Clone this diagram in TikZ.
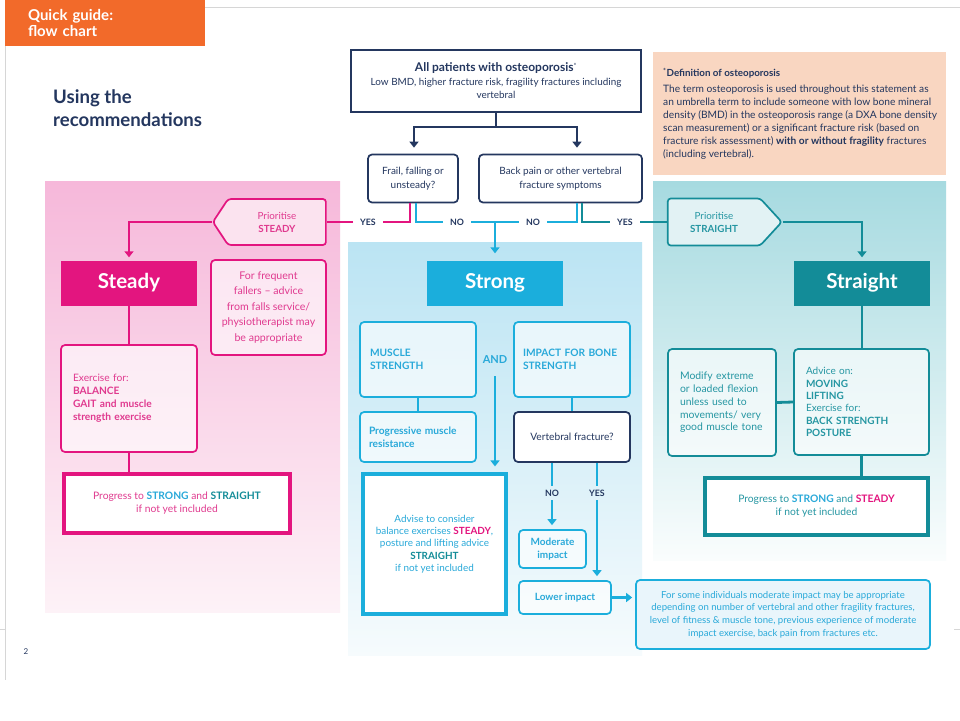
\documentclass[tikz,border=0pt]{standalone}
\usepackage{fontspec}
\setmainfont{Lato}
\usetikzlibrary{arrows.meta,shapes.symbols,calc}
\newcommand\myfs[2]{\fontsize{#1}{#2}\selectfont}
\definecolor{navy}{HTML}{24375F}
\definecolor{orng}{HTML}{F26A2A}
\definecolor{mag}{HTML}{E3157F}
\definecolor{pinktxt}{HTML}{E03A8F}
\definecolor{cyn}{HTML}{1BAEDC}
\definecolor{cyntxt}{HTML}{29A9D9}
\definecolor{tel}{HTML}{138C98}
\definecolor{teltxt}{HTML}{2596A2}
\definecolor{peach}{HTML}{F9D6C1}
\definecolor{pinkTop}{HTML}{F6B8DA}
\definecolor{pinkBot}{HTML}{FDF2F7}
\definecolor{blueTop}{HTML}{BBE4F3}
\definecolor{blueBot}{HTML}{F6FBFD}
\definecolor{telTop}{HTML}{A6DAE0}
\definecolor{telBot}{HTML}{FAFDFD}
\definecolor{notefill}{HTML}{E9F5FB}
\definecolor{pentpink}{HTML}{FBE3EF}
\definecolor{pentteal}{HTML}{E2F2F4}
\definecolor{framec}{HTML}{D6D6D6}
\begin{document}
\begin{tikzpicture}[x=1pt,y=-1pt,
  every node/.style={inner sep=0pt, font=\myfs{9.9}{13}},
  thinbox/.style={draw, rounded corners=4pt, line width=1.7pt, fill=white, fill opacity=0.6, text opacity=1, draw opacity=1},
  pinkbox/.style={thinbox, draw=mag, text=pinktxt},
  cyanbox/.style={thinbox, draw=cyn, text=cyntxt},
  tealbox/.style={thinbox, draw=tel, text=teltxt},
  navybox/.style={draw=navy, rounded corners=4pt, line width=1.7pt, fill=white, text=navy},
  thickbox/.style={draw, line width=3.2pt, fill=white, align=center, font=\myfs{10.3}{13}},
  headbox/.style={text=white, font=\myfs{20.5}{22}\bfseries, minimum height=45pt},
  lbl/.style={text=navy, font=\myfs{8.8}{10}\bfseries, inner xsep=7pt, inner ysep=4pt},
  conn/.style={line width=2.8pt},
  navyline/.style={conn, draw=navy},
  pinkline/.style={conn, draw=mag},
  cyanline/.style={conn, draw=cyn},
  tealline/.style={conn, draw=tel},
  arr/.style={-{Triangle[width=9pt,length=6pt]}}
]
\useasboundingbox (0,0) rectangle (960,720);
\fill[white] (0,0) rectangle (960,720);
% frame
\draw[framec, line width=0.8pt] (205,7) -- (960,7);
\draw[framec, line width=0.8pt] (5,46) -- (5,680);
\draw[framec, line width=0.8pt] (0,629) -- (5,629);
\draw[framec, line width=0.8pt] (954,629) -- (960,629);
% panels
\fill[top color=pinkTop, bottom color=pinkBot] (45,181) rectangle (340,612);
\fill[top color=blueTop, bottom color=blueBot] (348,242) rectangle (642,655);
\fill[top color=telTop, bottom color=telBot] (653,181) rectangle (946,560);
% header
\node[fill=orng, text=white, font=\myfs{15}{15.5}\bfseries, align=left, inner xsep=23pt, text width=154pt, minimum height=46pt] (hdr) at (105,23) {Quick guide:\\flow chart};
\node[anchor=west, align=left, text=navy, font=\myfs{18.6}{23}\bfseries] (title) at (53,108.5) {Using the\\recommendations};
\node[text=navy, font=\myfs{8}{10}] (pg) at (26,652) {2};
% top
\node[draw=navy, line width=2.8pt, fill=white, text=navy, align=center, minimum width=290pt, minimum height=62pt] (top) at (496,81) {{\myfs{12}{14}\bfseries All patients with osteoporosis}\textsuperscript{*}\\[1pt]Low BMD, higher fracture risk, fragility fractures including\\vertebral};
\node[navybox, align=center, minimum width=90pt, minimum height=48pt, font=\myfs{10}{14}] (frail) at (413,178.5) {Frail, falling or\\unsteady?};
\node[navybox, align=center, minimum width=163pt, minimum height=48pt, font=\myfs{10}{14}] (back) at (560.5,178.5) {Back pain or other vertebral\\fracture symptoms};
\node[fill=peach, minimum width=293pt, minimum height=123pt] (def) at (799.5,113.5) {};
\node[anchor=west, text=navy, align=left, font=\myfs{10.2}{12.9}] (deftext) at (663,113.5) {{\myfs{9.8}{12.9}\bfseries\textsuperscript{*}Definition of osteoporosis}\\[3pt]The term osteoporosis is used throughout this statement as\\an umbrella term to include someone with low bone mineral\\density (BMD) in the osteoporosis range (a DXA bone density\\scan measurement) or a significant fracture risk (based on\\fracture risk assessment) \textbf{with or without fragility} fractures\\(including vertebral).};
% decision labels
\node[lbl] (yes1) at (368,222) {YES};
\node[lbl] (no1) at (457,222) {NO};
\node[lbl] (no2) at (533,222) {NO};
\node[lbl] (yes2) at (625,222) {YES};
% pentagons
\node[signal, signal to=west, signal pointer angle=113, draw=mag, line width=1.7pt, fill=pentpink, text=pinktxt, align=center, rounded corners=3pt, minimum width=113pt, minimum height=46pt, font=\myfs{9.8}{13}] (psteady) at (277,222) {Prioritise\\\textbf{STEADY}};
\node[signal, signal to=east, signal pointer angle=95, draw=tel, line width=1.7pt, fill=pentteal, text=teltxt, align=center, rounded corners=3pt, minimum width=114pt, minimum height=47pt, font=\myfs{9.8}{13}] (pstraight) at (714,222) {Prioritise\\\textbf{STRAIGHT}};
% headline boxes
\node[headbox, fill=mag, minimum width=136pt] (steady) at (129,283) {Steady};
\node[headbox, fill=cyn, minimum width=136pt] (strong) at (495,283) {Strong};
\node[headbox, fill=tel, minimum width=136pt] (straight) at (862,283) {Straight};
% left column
\node[pinkbox, align=center, minimum width=115pt, minimum height=95pt, font=\myfs{10.6}{15.5}] (freq) at (268.5,307.5) {For frequent\\fallers – advice\\from falls service/\\physiotherapist may\\be appropriate};
\node[pinkbox, align=left, inner xsep=12pt, text width=112pt, minimum height=107pt, font=\myfs{10.2}{13}] (exer) at (129,398.5) {Exercise for:\\\textbf{BALANCE}\\\textbf{GAIT and muscle}\\\textbf{strength exercise}};
\node[thickbox, draw=mag, text=pinktxt, minimum width=226pt, minimum height=59pt] (progpink) at (177,503.5) {Progress to {\bfseries\color{cyntxt}STRONG} and {\bfseries\color{tel}STRAIGHT}\\if not yet included};
% middle column
\node[cyanbox, align=left, inner xsep=10pt, text width=96pt, minimum height=75pt, font=\myfs{10.2}{12.5}\bfseries] (muscle) at (418,359.5) {MUSCLE\\STRENGTH};
\node[cyanbox, align=left, inner xsep=9pt, text width=98pt, minimum height=75pt, font=\myfs{10.2}{12.5}\bfseries] (impact) at (572,359.5) {IMPACT FOR BONE\\STRENGTH};
\node[text=cyntxt, font=\myfs{11}{13}\bfseries] (and) at (495,360) {AND};
\node[cyanbox, align=left, inner xsep=9pt, text width=98pt, minimum height=50pt, font=\myfs{10.2}{12.8}\bfseries] (prog) at (418,437) {Progressive muscle\\resistance};
\node[navybox, minimum width=116pt, minimum height=50pt, font=\myfs{10.2}{12}] (vert) at (572,437) {Vertebral fracture?};
\node[thickbox, draw=cyn, text=cyntxt, minimum width=143pt, minimum height=140pt, font=\myfs{9.9}{12.4}] (advise) at (434.5,544) {Advise to consider\\balance exercises {\bfseries\color{mag}STEADY},\\posture and lifting advice\\{\bfseries\color{tel}STRAIGHT}\\if not yet included};
\node[lbl] (nolab) at (552,493) {NO};
\node[lbl] (yeslab) at (597,493) {YES};
\node[cyanbox, align=center, minimum width=67pt, minimum height=38pt, font=\myfs{10}{12.8}\bfseries] (moderate) at (552.5,549) {Moderate\\impact};
\node[cyanbox, minimum width=92pt, minimum height=33pt, font=\myfs{10}{12}\bfseries] (lower) at (565,597.5) {Lower impact};
\node[draw=cyn, rounded corners=4pt, line width=1.7pt, fill=notefill, text=cyntxt, align=center, minimum width=294pt, minimum height=69pt, font=\myfs{9.6}{12.7}] (note) at (783,614.5) {For some individuals moderate impact may be appropriate\\depending on number of vertebral and other fragility fractures,\\level of fitness \& muscle tone, previous experience of moderate\\impact exercise, back pain from fractures etc.};
% right column
\node[tealbox, align=left, inner xsep=12pt, text width=84pt, minimum height=107pt, font=\myfs{10.4}{12.8}] (modify) at (722,402.5) {Modify extreme\\or loaded flexion\\unless used to\\movements/ very\\good muscle tone};
\node[tealbox, align=left, inner xsep=12pt, text width=111pt, minimum height=106pt, font=\myfs{10}{12.4}] (advice) at (861.5,402) {Advice on:\\\textbf{MOVING}\\\textbf{LIFTING}\\Exercise for:\\\textbf{BACK STRENGTH}\\\textbf{POSTURE}};
\node[thickbox, draw=tel, text=teltxt, minimum width=223pt, minimum height=57pt] (progteal) at (816.5,506.5) {Progress to {\bfseries\color{cyntxt}STRONG} and {\bfseries\color{mag}STEADY}\\if not yet included};
% connectors: top
\coordinate (tj) at (top.south |- 0,127);
\draw[navyline] (top.south) -- (tj);
\draw[navyline, arr, shorten >=6pt] (tj) -| (frail.north -| 414,0);
\draw[navyline, arr, shorten >=6pt] (tj) -| (back.north -| 577,0);
% YES / NO branches
\draw[pinkline] (frail.south -| 410,0) |- (yes1.east);
\draw[pinkline] (yes1.west) -- (psteady.east);
\draw[pinkline, arr, shorten >=3pt] (psteady.west) -| (steady.north);
\draw[cyanline] (frail.south -| 416,0) |- (no1.west);
\draw[cyanline] (no1.east) -- (no2.west);
\draw[cyanline] (no2.east) -| (back.south -| 577,0);
\draw[cyanline, arr, shorten >=7pt] (no1.east -| strong.north) -- (strong.north);
\draw[tealline] (back.south -| 582,0) |- (yes2.west);
\draw[tealline] (yes2.east) -- (pstraight.west);
\draw[tealline, arr, shorten >=3pt] (pstraight.east) -| (straight.north);
% left column
\draw[pinkline] (steady.south) -- (exer.north);
\draw[pinkline] (exer.south) -- (exer.south |- progpink.north);
% middle column
\draw[cyanline] (muscle.south) -- (prog.north);
\draw[cyanline] (impact.south) -- (vert.north);
\draw[cyanline, arr, shorten <=12pt, shorten >=6pt] (and.south) -- (and.south |- advise.north);
\draw[cyanline] (vert.south -| nolab) -- (nolab.north);
\draw[cyanline, arr, shorten >=4pt] (nolab.south) -- (nolab.south |- moderate.north);
\draw[cyanline] (vert.south -| yeslab) -- (yeslab.north);
\draw[cyanline, arr, shorten >=4pt] (yeslab.south) -- (yeslab.south |- lower.north);
\draw[cyanline, arr, shorten >=3pt] (lower.east) -- (lower.east -| note.west);
% right column
\draw[tealline] (straight.south) -- (straight.south |- advice.north);
\draw[tealline] (modify.east) -- (advice.west);
\draw[tealline] (advice.south) -- (advice.south |- progteal.north);
\end{tikzpicture}
\end{document}
